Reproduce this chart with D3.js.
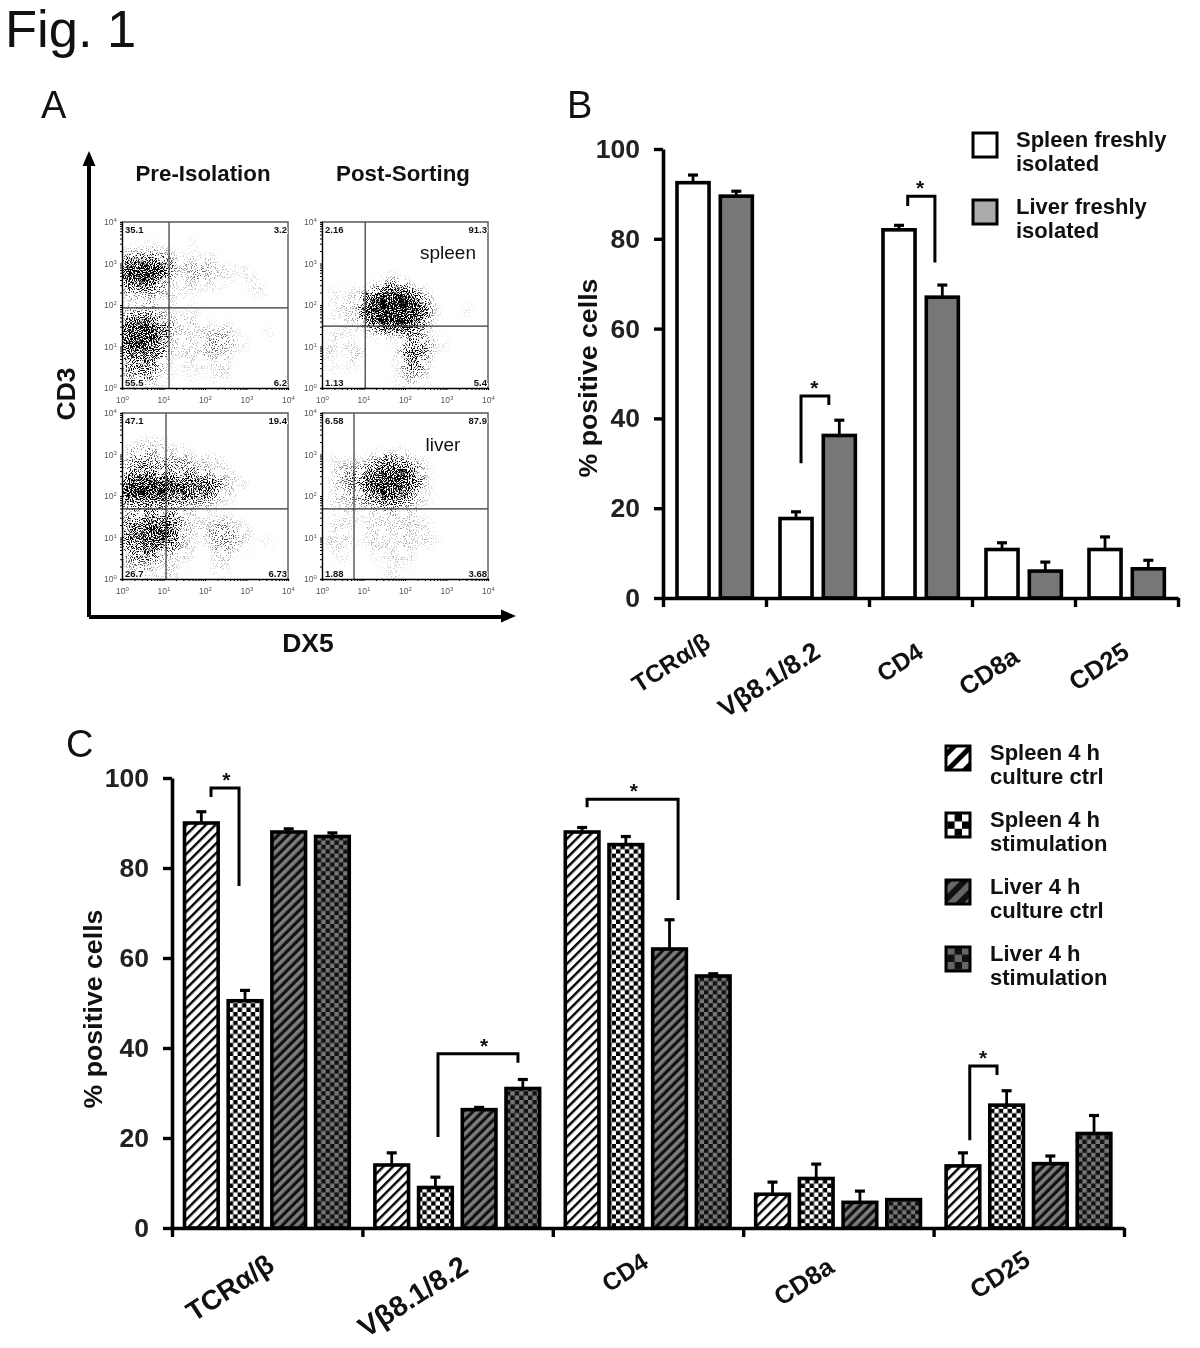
<!DOCTYPE html>
<html>
<head>
<meta charset="utf-8">
<script src="https://cdn.jsdelivr.net/npm/d3@7"></script>
<style>
body{margin:0;background:#fff;}
svg{display:block;filter:blur(.35px);}
text{font-family:"Liberation Sans",Arial,sans-serif;fill:#111;}
.b{font-weight:bold;}
.q{font-weight:bold;paint-order:stroke;stroke:#fff;stroke-width:2px;}
</style>
</head>
<body>
<div class="canvas"></div>
<script>
//Panel A: dot density, 0-9 per cell, 5 cells per decade, top row = 10^4
var densityPreSpleen = [
"00000000000000000000","00000000000000000000","00010000100000000000","11111100000000000000",
"45554311111100000000","89998421222110100000","89987311221111010000","55654111111100011000",
"22222110100000001000","11121110000000000000","11121100100000000000","45543211100000000000",
"78876321111010000000","88887211111221000100","88886211112321100000","67765111112211000000",
"45553101111110000000","34442101010110000000","22331100100110000000","11211000000100000000"];
var densityPostSpleen = [
"00000000000000000000","00000000000000000000","00000000000000000000","00000000000000000000",
"00000000000000000000","00000000000000000000","00000000100000000000","00000012321000000000",
"01011258885210000000","01112799999731000000","00112899999941000100","01112799999831000000",
"00011258887420000000","01100011122310000000","01110000013431100000","11011000024531000000",
"10011000025520000000","01010000013410000000","00000000012210000000","00000000011100000000"];
var densityPreLiver = [
"00000000000000000000","00000000000000000000","00000000000000000000","00111000000000000000",
"12221111000000000000","13322222111100000000","23333333221110000000","45554433332111000000",
"89999887776421100000","89999877766311000000","55655443332110000000","22333222111000000000",
"23344441110110000000","45677642111221100000","56788752112332110000","45777541101222100100",
"34564321100221100000","23332111000110000000","12211110000110000000","01211110000100000000"];
var densityPostLiver = [
"00000000000000000000","00000000000000000000","00000000000000000000","00000000000000000000",
"00000000010000000000","01001124431100000000","01222356665210000000","01233678887410000000",
"01233788887410000000","01222678874210000000","01122345543110000000","01111122221100000000",
"00101011111100000000","01110111111110000000","01100111121110000000","11110111011111000000",
"01100011111000000000","00100010111000000000","00000000100000000000","00000001110000000000"];

var plotNames = ['preSpleen','postSpleen','preLiver','postLiver'];
var plotDensity = [densityPreSpleen,densityPostSpleen,densityPreLiver,densityPostLiver];
var gateX = [13.6,11,11.5,5.9];
var gateY = [85,31,49,49];
var quadrants = [
    ['35.1','3.2','55.5','6.2'],
    ['2.16','91.3','1.13','5.4'],
    ['47.1','19.4','26.7','6.73'],
    ['6.58','87.9','1.88','3.68']];
var decades = [1,10,100,1000,10000];

//Panel B
var categories = ['TCR\u03b1/\u03b2','V\u03b28.1/8.2','CD4','CD8a','CD25'];
var freshSeries = ['Spleen freshly|isolated','Liver freshly|isolated'];
var freshSpleen = [92.5,17.7,82,10.8,10.8];
var freshSpleenErr = [94.2,19.2,83,12.3,13.6];
var freshLiver = [89.5,36.2,67,6,6.5];
var freshLiverErr = [90.6,39.6,69.7,8,8.4];
var freshBrackets = [
    {x1:1.34,x2:1.61,low1:30,low2:43,top:45,star:1.47},
    {x1:2.376,x2:2.64,low1:87.3,low2:74.7,top:89.5,star:2.495}];

//Panel C
var cultureSeries = ['Spleen 4 h|culture ctrl','Spleen 4 h|stimulation','Liver 4 h|culture ctrl','Liver 4 h|stimulation'];
var spleenCtrl = [90,14,88,7.5,13.8];
var spleenCtrlErr = [92.5,16.7,89,10.2,16.7];
var spleenStim = [50.5,9,85.2,11,27.3];
var spleenStimErr = [52.8,11.3,87,14.2,30.5];
var liverCtrl = [88,26.3,62,5.7,14.3];
var liverCtrlErr = [88.7,26.8,68.5,8.2,16];
var liverStim = [87,31,56,6.3,21];
var liverStimErr = [87.8,33,56.5,6.3,25];
var cultureBrackets = [
    {x1:.205,x2:.352,low1:95.8,low2:76,top:97.8,star:.285},
    {x1:1.397,x2:1.817,low1:20.2,low2:36.7,top:38.7,star:1.639},
    {x1:2.18,x2:2.658,low1:93.5,low2:72.9,top:95.3,star:2.426},
    {x1:4.19,x2:4.333,low1:19.5,low2:34,top:36,star:4.26}];

var yTicks = [0,20,40,60,80,100];

var svg = d3.select('.canvas').append('svg')
    .attr('width',1200)
    .attr('height',1348);
var defs = svg.append('defs');

//grain: blurred density + noise, thresholded, gives single dark pixels where density is low
var stipple = defs.append('filter').attr('id','stipple')
    .attr('filterUnits','userSpaceOnUse')
    .attr('x',0).attr('y',0).attr('width',1200).attr('height',700)
    .attr('color-interpolation-filters','sRGB');
stipple.append('feGaussianBlur').attr('in','SourceAlpha').attr('stdDeviation',4).attr('result','d');
stipple.append('feTurbulence').attr('type','fractalNoise').attr('baseFrequency',.95).attr('numOctaves',2).attr('seed',7).attr('result','t');
stipple.append('feColorMatrix').attr('in','t').attr('type','matrix')
    .attr('values','0 0 0 0 0  0 0 0 0 0  0 0 0 0 0  0 0 0 3.6 -1.3').attr('result','n');
stipple.append('feComposite').attr('in','d').attr('in2','n').attr('operator','arithmetic')
    .attr('k1',0).attr('k2',1).attr('k3',1).attr('k4',-1).attr('result','c');
stipple.append('feComponentTransfer').attr('in','c').append('feFuncA').attr('type','linear').attr('slope',3);

function stripePattern(id,period,stripe,bg,fg){
    var p = defs.append('pattern').attr('id',id)
        .attr('patternUnits','userSpaceOnUse')
        .attr('width',period).attr('height',period)
        .attr('patternTransform','rotate(45)');
    p.append('rect').attr('width',period).attr('height',period).attr('fill',bg);
    p.append('rect').attr('width',stripe).attr('height',period).attr('fill',fg);
}
function checkPattern(id,cell,bg,fg){
    var p = defs.append('pattern').attr('id',id)
        .attr('patternUnits','userSpaceOnUse')
        .attr('width',cell*2).attr('height',cell*2);
    p.append('rect').attr('width',cell*2).attr('height',cell*2).attr('fill',bg);
    p.append('rect').attr('width',cell).attr('height',cell).attr('fill',fg);
    p.append('rect').attr('x',cell).attr('y',cell).attr('width',cell).attr('height',cell).attr('fill',fg);
}
stripePattern('barSpleenCtrl',6.8,2.4,'#fff','#000');
checkPattern('barSpleenStim',4.4,'#000','#fff');
stripePattern('barLiverCtrl',6.8,3.6,'#111','#7c7c7c');
checkPattern('barLiverStim',4.4,'#111','#777');
stripePattern('keySpleenCtrl',12,5,'#fff','#000');
checkPattern('keySpleenStim',7.4,'#000','#fff');
stripePattern('keyLiverCtrl',12,6,'#111','#666');
checkPattern('keyLiverStim',7.4,'#111','#666');

//Figure letters
function label(t,x,y,size){
    svg.append('text').attr('x',x).attr('y',y).attr('font-size',size).text(t);
}
label('Fig. 1',5,47,52.5);
label('A',41,118,38);
label('B',567,118,38);
label('C',66,757,38);

//Part A: flow plots
var plotLefts = [122,322,122,322];
var plotTops = [222,222,413,413];
var plotSize = 166;
var logScale = d3.scaleLog().domain([1,10000]).range([0,plotSize]);
var logScaleY = d3.scaleLog().domain([1,10000]).range([plotSize,0]);

plotNames.forEach(function(name,i){
    var g = svg.append('g')
        .attr('class',name)
        .attr('transform','translate('+plotLefts[i]+','+plotTops[i]+')');

    var clip = defs.append('clipPath').attr('id','clip-'+name);
    clip.append('rect').attr('width',plotSize).attr('height',plotSize);

    var cells = [];
    plotDensity[i].forEach(function(row,r){
        row.split('').forEach(function(v,c){
            if(+v > 0){ cells.push({r:r,c:c,v:+v}); }
        });
    });
    g.append('g').attr('clip-path','url(#clip-'+name+')')
        .append('g').attr('filter','url(#stipple)')
        .selectAll('rect').data(cells).enter().append('rect')
        .attr('x',function(d){ return logScale(Math.pow(10,d.c*.2)); })
        .attr('y',function(d){ return logScaleY(Math.pow(10,4-d.r*.2)); })
        .attr('width',plotSize/20+.5)
        .attr('height',plotSize/20+.5)
        .attr('fill-opacity',function(d){ return Math.pow(d.v/9,1.1); });

    //gates
    g.append('line').attr('x1',logScale(gateX[i])).attr('x2',logScale(gateX[i]))
        .attr('y1',0).attr('y2',plotSize).attr('stroke','#333').attr('stroke-width',1.2);
    g.append('line').attr('x1',0).attr('x2',plotSize)
        .attr('y1',logScaleY(gateY[i])).attr('y2',logScaleY(gateY[i])).attr('stroke','#333').attr('stroke-width',1.2);

    //frame
    g.append('path').attr('d','M0,0H'+plotSize+'V'+plotSize).attr('fill','none').attr('stroke','#555').attr('stroke-width',1.4);

    var ax = d3.axisBottom(logScale).tickSize(2).tickFormat('');
    var ay = d3.axisLeft(logScaleY).tickSize(2).tickFormat('');
    var gx = g.append('g').attr('transform','translate(0,'+plotSize+')').call(ax);
    var gy = g.append('g').call(ay);
    [gx,gy].forEach(function(a){
        a.select('.domain').attr('stroke','#000').attr('stroke-width',1.4);
        a.selectAll('.tick line').attr('stroke','#000');
    });

    decades.forEach(function(d,k){
        var t = g.append('text')
            .attr('x',logScale(d)-6).attr('y',plotSize+15)
            .attr('font-size',8.5).style('fill','#555').text('10');
        t.append('tspan').attr('dy',-3).attr('font-size',6).text(k);
        var t2 = g.append('text')
            .attr('x',-18).attr('y',logScaleY(d)+3)
            .attr('font-size',8.5).style('fill','#555').text('10');
        t2.append('tspan').attr('dy',-3).attr('font-size',6).text(k);
    });

    //quadrant percentages
    var q = quadrants[i];
    g.append('text').attr('class','q').attr('x',3).attr('y',11).attr('font-size',9.5).text(q[0]);
    g.append('text').attr('class','q').attr('x',plotSize-1).attr('y',11).attr('text-anchor','end').attr('font-size',9.5).text(q[1]);
    g.append('text').attr('class','q').attr('x',3).attr('y',plotSize-2).attr('font-size',9.5).text(q[2]);
    g.append('text').attr('class','q').attr('x',plotSize-1).attr('y',plotSize-2).attr('text-anchor','end').attr('font-size',9.5).text(q[3]);
});

svg.append('text').attr('class','b').attr('x',203).attr('y',181).attr('text-anchor','middle').attr('font-size',22.3).text('Pre-Isolation');
svg.append('text').attr('class','b').attr('x',403).attr('y',181).attr('text-anchor','middle').attr('font-size',22.3).text('Post-Sorting');
svg.append('text').attr('x',448).attr('y',259).attr('text-anchor','middle').attr('font-size',19).text('spleen');
svg.append('text').attr('x',443).attr('y',451).attr('text-anchor','middle').attr('font-size',19).text('liver');
svg.append('text').attr('class','b').attr('x',308).attr('y',652).attr('text-anchor','middle').attr('font-size',26.5).text('DX5');
svg.append('text').attr('class','b').attr('transform','translate(75,394) rotate(-90)').attr('text-anchor','middle').attr('font-size',26.5).text('CD3');

//big axis arrows
svg.append('path').attr('d','M89,617V160').attr('stroke','#000').attr('stroke-width',4).attr('fill','none');
svg.append('path').attr('d','M89,617H505').attr('stroke','#000').attr('stroke-width',4).attr('fill','none');
svg.append('path').attr('d','M89,151L82.5,166H95.5Z').attr('fill','#000');
svg.append('path').attr('d','M516,616L501,609.5V622.5Z').attr('fill','#000');

//Parts B and C: grouped bars
function barChart(o){
    var y = d3.scaleLinear().domain([0,100]).range([o.y0,o.y100]);
    var pos = d3.scaleLinear().domain([0,5]).range([o.x0,o.x1]);
    var inner = d3.scaleBand().domain(d3.range(o.values.length))
        .range([o.start,o.start+o.step*(o.values.length-o.pad)])
        .paddingInner(o.pad);

    var g = svg.append('g').attr('class',o.name);

    o.values.forEach(function(vals,s){
        var bars = g.append('g');
        var xBar = function(i){ return pos(i)+inner(s); };
        var bw = inner.bandwidth();

        //error bars sit behind the bar outline
        vals.forEach(function(v,i){
            if(o.errs[s][i] <= v){ return; }
            var cx = xBar(i)+bw/2;
            bars.append('line').attr('x1',cx).attr('x2',cx)
                .attr('y1',y(v)).attr('y2',y(o.errs[s][i]))
                .attr('stroke','#000').attr('stroke-width',2.8);
            bars.append('line').attr('x1',cx-5).attr('x2',cx+5)
                .attr('y1',y(o.errs[s][i])).attr('y2',y(o.errs[s][i]))
                .attr('stroke','#000').attr('stroke-width',3.2);
        });

        bars.selectAll('rect').data(vals).enter().append('rect')
            .attr('x',function(d,i){ return xBar(i); })
            .attr('y',function(d){ return y(d); })
            .attr('width',bw)
            .attr('height',function(d){ return o.y0-y(d); })
            .attr('fill',o.fills[s])
            .attr('stroke','#000')
            .attr('stroke-width',3.6);
    });

    //axes
    var ya = g.append('g').attr('transform','translate('+o.x0+',0)')
        .call(d3.axisLeft(y).tickValues(yTicks).tickSize(9).tickSizeOuter(0).tickPadding(14));
    var xa = g.append('g').attr('transform','translate(0,'+o.y0+')')
        .call(d3.axisBottom(pos).ticks(5).tickSize(9).tickSizeOuter(0).tickFormat(''));
    [ya,xa].forEach(function(a){
        a.select('.domain').attr('stroke','#000').attr('stroke-width',3.6);
        a.selectAll('.tick line').attr('stroke','#000').attr('stroke-width',3.4);
    });
    ya.selectAll('.tick text')
        .attr('font-size',26.5).attr('font-weight','bold')
        .style('font-family','"Liberation Sans",Arial,sans-serif').style('fill','#222');

    g.append('text').attr('class','b')
        .attr('transform','translate('+o.titleX+','+o.titleY+') rotate(-90)')
        .attr('text-anchor','middle').attr('font-size',o.titleSize).text('% positive cells');

    //category labels
    categories.forEach(function(c,i){
        g.append('text').attr('class','b')
            .attr('transform','translate('+o.labelX[i]+','+o.labelY[i]+') rotate(-33)')
            .attr('text-anchor','end').attr('font-size',o.labelSize[i]).text(c);
    });

    //significance brackets
    o.brackets.forEach(function(b){
        g.append('path')
            .attr('d','M'+pos(b.x1)+','+y(b.low1)+'V'+y(b.top)+'H'+pos(b.x2)+'V'+y(b.low2))
            .attr('fill','none').attr('stroke','#000').attr('stroke-width',3);
        g.append('text').attr('class','b')
            .attr('x',pos(b.star)).attr('y',y(b.top)-1)
            .attr('text-anchor','middle').attr('font-size',21).text('*');
    });

    //legend
    o.series.forEach(function(s,i){
        var ky = o.keyY+i*o.keyStep;
        g.append('rect').attr('x',o.keyX).attr('y',ky)
            .attr('width',24).attr('height',24)
            .attr('fill',o.keyFills[i]).attr('stroke','#000').attr('stroke-width',3);
        s.split('|').forEach(function(line,k){
            g.append('text').attr('class','b')
                .attr('x',o.keyTextX).attr('y',ky+o.keyBase+k*24)
                .attr('font-size',o.keySize).text(line);
        });
    });
}

barChart({
    name:'fresh',
    values:[freshSpleen,freshLiver],
    errs:[freshSpleenErr,freshLiverErr],
    fills:['#fff','#777'],
    x0:663,x1:1178,y0:598,y100:149,
    start:14,step:43.3,pad:.26,
    titleX:597,titleY:378,titleSize:26.7,
    labelX:[712,822,925,1021,1131],labelY:[646,656,656,661,656],labelSize:[24.5,26.5,24.5,25.5,25.5],
    brackets:freshBrackets,
    series:freshSeries,
    keyX:973,keyY:133,keyStep:67,keyTextX:1016,keyBase:14,keySize:22,
    keyFills:['#fff','#aaa']
});

barChart({
    name:'culture',
    values:[spleenCtrl,spleenStim,liverCtrl,liverStim],
    errs:[spleenCtrlErr,spleenStimErr,liverCtrlErr,liverStimErr],
    fills:['url(#barSpleenCtrl)','url(#barSpleenStim)','url(#barLiverCtrl)','url(#barLiverStim)'],
    x0:172,x1:1124,y0:1228,y100:778,
    start:12.5,step:43.7,pad:.23,
    titleX:102,titleY:1009,titleSize:26.7,
    labelX:[276,470,650,836,1032],labelY:[1269,1271,1266,1271,1264],labelSize:[27.5,28.5,24.5,25.5,25.5],
    brackets:cultureBrackets,
    series:cultureSeries,
    keyX:946,keyY:746,keyStep:67,keyTextX:990,keyBase:14,keySize:22,
    keyFills:['url(#keySpleenCtrl)','url(#keySpleenStim)','url(#keyLiverCtrl)','url(#keyLiverStim)']
});
</script>
</body>
</html>
